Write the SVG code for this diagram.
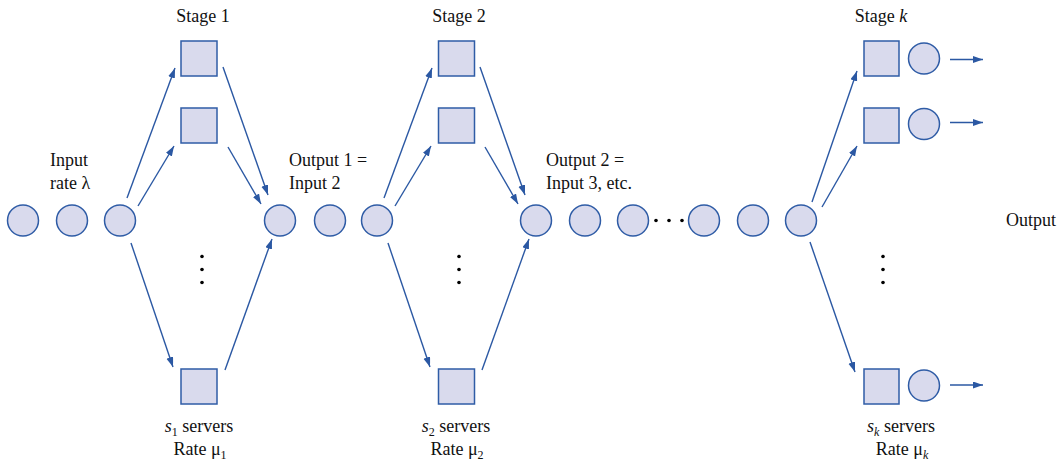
<svg xmlns="http://www.w3.org/2000/svg" width="1059" height="464" viewBox="0 0 1059 464">
<style>
  .q{fill:#d9daed;stroke:#2f5ca6;stroke-width:1.5}
  .c{fill:#d9daed;stroke:#2f5ca6;stroke-width:1.5}
  .ln{stroke:#2b58a3;stroke-width:1.4;fill:none;marker-end:url(#ah)}
  text{font-family:"Liberation Serif","Times New Roman",serif;font-size:18px;fill:#111}
  .m{text-anchor:middle}
  .sub{font-size:12px}
  .dot{fill:#000}
</style>
<defs>
  <marker id="ah" markerUnits="userSpaceOnUse" markerWidth="11" markerHeight="8" refX="10" refY="3.5" orient="auto">
    <path d="M0,0 L10,3.5 L0,7 z" fill="#2b58a3"/>
  </marker>
</defs>

<g id="queue-in">
  <circle class="c" cx="23" cy="220.5" r="15.5"/>
  <circle class="c" cx="72" cy="220.5" r="15.5"/>
  <circle class="c" cx="120" cy="220.5" r="15.5"/>
  <text x="50" y="166">Input</text>
  <text x="50" y="189">rate λ</text>
</g>

<g id="stage1">
  <text class="m" x="203" y="22">Stage 1</text>
  <rect class="q" x="181" y="41" width="36" height="35"/>
  <rect class="q" x="181" y="108" width="36" height="35"/>
  <rect class="q" x="181" y="369" width="36" height="35"/>
  <circle class="dot" cx="202" cy="256.5" r="1.8"/>
  <circle class="dot" cx="202" cy="269.5" r="1.8"/>
  <circle class="dot" cx="202" cy="282.5" r="1.8"/>
  <text class="m" x="199" y="432"><tspan font-style="italic">s</tspan><tspan class="sub" dy="4">1</tspan><tspan dy="-4"> servers</tspan></text>
  <text class="m" x="200" y="455">Rate μ<tspan class="sub" dy="4">1</tspan></text>
</g>

<g id="queue-mid1">
  <circle class="c" cx="280" cy="220.5" r="15.5"/>
  <circle class="c" cx="330" cy="220.5" r="15.5"/>
  <circle class="c" cx="377" cy="220.5" r="15.5"/>
  <text x="289" y="166">Output 1 =</text>
  <text x="289" y="189">Input 2</text>
</g>

<g id="stage2">
  <text class="m" x="459" y="22">Stage 2</text>
  <rect class="q" x="438.5" y="41" width="36" height="35"/>
  <rect class="q" x="438.5" y="108" width="36" height="35"/>
  <rect class="q" x="438.5" y="369" width="36" height="35"/>
  <circle class="dot" cx="459" cy="256.5" r="1.8"/>
  <circle class="dot" cx="459" cy="269.5" r="1.8"/>
  <circle class="dot" cx="459" cy="282.5" r="1.8"/>
  <text class="m" x="456" y="432"><tspan font-style="italic">s</tspan><tspan class="sub" dy="4">2</tspan><tspan dy="-4"> servers</tspan></text>
  <text class="m" x="457" y="455">Rate μ<tspan class="sub" dy="4">2</tspan></text>
</g>

<g id="queue-mid2">
  <circle class="c" cx="536" cy="220.5" r="15.5"/>
  <circle class="c" cx="585" cy="220.5" r="15.5"/>
  <circle class="c" cx="633" cy="220.5" r="15.5"/>
  <circle class="dot" cx="656" cy="220.5" r="1.8"/>
  <circle class="dot" cx="669" cy="220.5" r="1.8"/>
  <circle class="dot" cx="682" cy="220.5" r="1.8"/>
  <circle class="c" cx="704" cy="220.5" r="15.5"/>
  <circle class="c" cx="753" cy="220.5" r="15.5"/>
  <circle class="c" cx="801" cy="220.5" r="15.5"/>
  <text x="546" y="166">Output 2 =</text>
  <text x="546" y="189">Input 3, etc.</text>
</g>

<g id="stagek">
  <text class="m" x="881" y="22">Stage <tspan font-style="italic">k</tspan></text>
  <rect class="q" x="864" y="41" width="35" height="35"/>
  <rect class="q" x="864" y="108" width="35" height="35"/>
  <rect class="q" x="864" y="369" width="35" height="35"/>
  <circle class="c" cx="924" cy="58.5" r="15.5"/>
  <circle class="c" cx="924" cy="124" r="15.5"/>
  <circle class="c" cx="924" cy="385.5" r="15.5"/>
  <circle class="dot" cx="883" cy="256.5" r="1.8"/>
  <circle class="dot" cx="883" cy="269.5" r="1.8"/>
  <circle class="dot" cx="883" cy="282.5" r="1.8"/>
  <text class="m" x="901" y="432"><tspan font-style="italic">s</tspan><tspan class="sub" font-style="italic" dy="4">k</tspan><tspan dy="-4"> servers</tspan></text>
  <text class="m" x="902" y="455">Rate μ<tspan class="sub" font-style="italic" dy="4">k</tspan></text>
</g>

<g id="output">
  <text x="1006" y="226">Output</text>
</g>

<g id="connectors">
  <line class="ln" x1="127" y1="198" x2="175" y2="68"/>
  <line class="ln" x1="138" y1="206" x2="174" y2="146"/>
  <line class="ln" x1="131" y1="243" x2="173" y2="367"/>
  <line class="ln" x1="223" y1="67" x2="268" y2="195"/>
  <line class="ln" x1="228" y1="147" x2="261" y2="204"/>
  <line class="ln" x1="225" y1="370" x2="272" y2="239"/>

  <line class="ln" x1="384" y1="198" x2="432" y2="68"/>
  <line class="ln" x1="395" y1="206" x2="431" y2="146"/>
  <line class="ln" x1="388" y1="243" x2="430" y2="367"/>
  <line class="ln" x1="480" y1="67" x2="525" y2="195"/>
  <line class="ln" x1="485" y1="147" x2="518" y2="204"/>
  <line class="ln" x1="482" y1="370" x2="529" y2="239"/>

  <line class="ln" x1="812" y1="202" x2="857" y2="71"/>
  <line class="ln" x1="822" y1="207" x2="857" y2="146"/>
  <line class="ln" x1="810" y1="242" x2="855" y2="372"/>

  <line class="ln" x1="950" y1="59.5" x2="983" y2="59.5"/>
  <line class="ln" x1="950" y1="122.5" x2="983" y2="122.5"/>
  <line class="ln" x1="950" y1="385" x2="983" y2="385"/>
</g>
</svg>
